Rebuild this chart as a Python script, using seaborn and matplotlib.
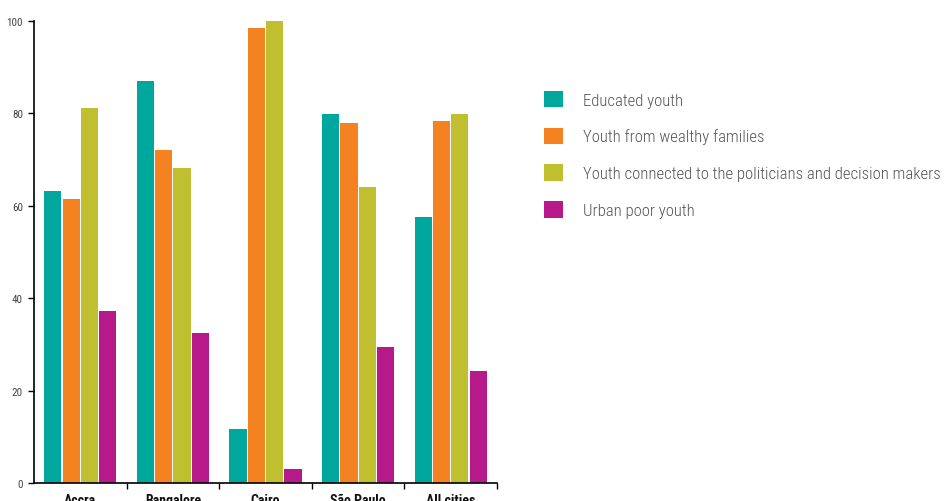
import matplotlib
matplotlib.use("Agg")
import matplotlib.pyplot as plt
from matplotlib import font_manager
import seaborn as sns
import pandas as pd

# values
cities = ["Accra", "Bangalore", "Cairo", "São Paulo", "All cities"]
groups = ["Educated youth",
          "Youth from wealthy families",
          "Youth connected to the politicians and decision makers",
          "Urban poor youth"]
educated = [63.2, 87.0, 11.7, 79.9, 57.6]
wealthy = [61.5, 72.1, 98.5, 77.9, 78.4]
connected = [81.2, 68.2, 100.0, 64.1, 79.9]
urban_poor = [37.2, 32.5, 3.0, 29.4, 24.2]
colors = ["#00A79D", "#F58220", "#BFBF30", "#B5198A"]

rows = []
for g, vals in zip(groups, [educated, wealthy, connected, urban_poor]):
    for c, v in zip(cities, vals):
        rows.append({"city": c, "group": g, "value": v})
df = pd.DataFrame(rows)

# pick a narrow font if there is one
fonts = font_manager.fontManager.ttflist
names = set(f.name for f in fonts)
narrow = None
for cand in ["Roboto Condensed", "Liberation Sans Narrow", "Open Sans Condensed"]:
    if cand in names:
        narrow = cand
        break
if narrow is None:
    narrow = "Roboto" if "Roboto" in names else "DejaVu Sans"

sns.set_style("white")
plt.rcParams["font.family"] = [narrow, "DejaVu Sans"]

fig = plt.figure(figsize=(9.45, 5.02), dpi=100)
ax = fig.add_axes([34 / 945, 18 / 502, 463 / 945, 462 / 502])

sns.barplot(data=df, x="city", y="value", hue="group", hue_order=groups,
            palette=colors, width=0.79, gap=0.06, saturation=1,
            linewidth=0, ax=ax)

ax.set_xlim(-0.5, len(cities) - 0.5)
ax.set_ylim(0, 100)
ax.set_yticks([0, 20, 40, 60, 80, 100])
ax.set_xlabel("")
ax.set_ylabel("")
sns.despine(ax=ax)
for side in ["left", "bottom"]:
    ax.spines[side].set_color("black")
    ax.spines[side].set_linewidth(1.2)

# tick marks between the groups, not under the labels
ax.set_xticks([i + 0.5 for i in range(len(cities))], minor=True)
ax.tick_params(axis="x", which="major", length=0, pad=7)
ax.tick_params(axis="x", which="minor", length=4, width=1, color="black",
               bottom=True, direction="out")
ax.tick_params(axis="y", length=4, width=1, color="black", left=True,
               direction="out", labelsize=8, labelcolor="#444444", pad=4)
for lab in ax.get_xticklabels():
    lab.set_fontweight("bold")
    lab.set_fontsize(10)
    lab.set_color("#111111")

# size the legend text so the longest label spans about 360 px
probe = fig.text(0, 0, groups[2], fontsize=12.5, fontweight="light")
fig.canvas.draw()
w = probe.get_window_extent().width
probe.remove()
leg_size = min(12.5, 12.5 * 358 / w)

handles, labels = ax.get_legend_handles_labels()
ax.get_legend().remove()
px = leg_size * 100 / 72
hl = 19 / px
fig.legend(handles, labels, loc="upper left",
           bbox_to_anchor=(537 / 945, 1 - 85 / 502), frameon=False,
           prop={"size": leg_size, "weight": "light"}, labelcolor="#555555",
           handlelength=hl, handleheight=hl, handletextpad=hl * 1.05,
           labelspacing=20 / px, borderaxespad=0)

fig.savefig("out.png", dpi=100)
